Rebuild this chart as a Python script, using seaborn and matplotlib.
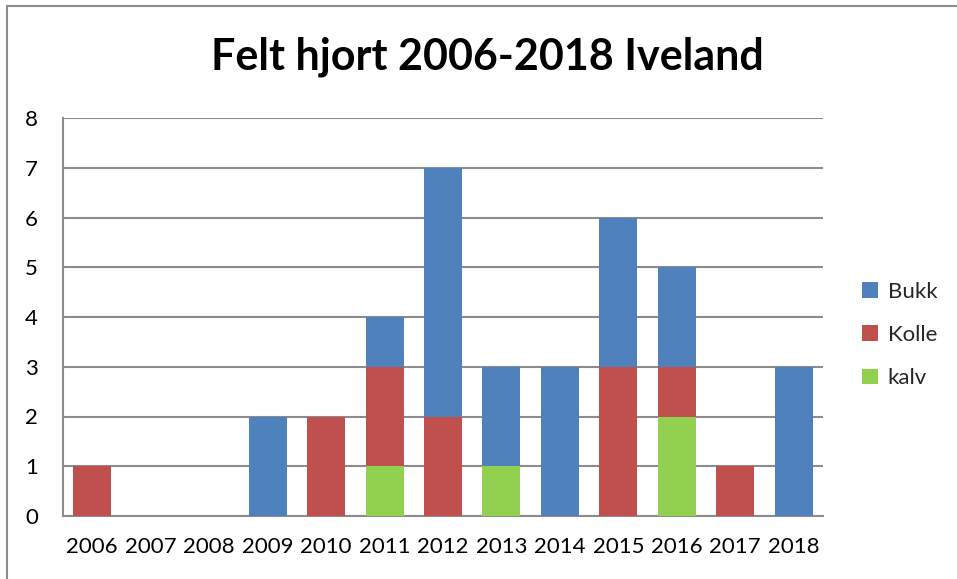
import matplotlib
matplotlib.use("Agg")
import matplotlib.pyplot as plt
import seaborn as sns
import pandas as pd
from matplotlib.patches import Patch, Rectangle

years = ["2006", "2007", "2008", "2009", "2010", "2011", "2012",
         "2013", "2014", "2015", "2016", "2017", "2018"]
bukk = [0, 0, 0, 2, 0, 1, 5, 2, 3, 3, 2, 0, 3]
kolle = [1, 0, 0, 0, 2, 2, 2, 0, 0, 3, 1, 1, 0]
kalv = [0, 0, 0, 0, 0, 1, 0, 1, 0, 0, 2, 0, 0]
series_names = ["Bukk", "Kolle", "kalv"]
colors = {"Bukk": "#4F81BD", "Kolle": "#C0504D", "kalv": "#92D050"}

df = pd.DataFrame({"year": years, "Bukk": bukk, "Kolle": kolle, "kalv": kalv})
df["top_kalv"] = df["kalv"]
df["top_kolle"] = df["kalv"] + df["Kolle"]
df["top_bukk"] = df["top_kolle"] + df["Bukk"]

sns.set_style("white")
plt.rcParams["font.family"] = ["Lato", "DejaVu Sans"]

fig = plt.figure(figsize=(9.57, 5.79), dpi=100)
ax = fig.add_axes([63/957, 1-516/579, (823-63)/957, (516-118)/579])

w = 0.65
sns.barplot(data=df, x="year", y="top_bukk", color=colors["Bukk"], width=w,
            saturation=1, ax=ax, linewidth=0, zorder=3)
sns.barplot(data=df, x="year", y="top_kolle", color=colors["Kolle"], width=w,
            saturation=1, ax=ax, linewidth=0, zorder=3)
sns.barplot(data=df, x="year", y="top_kalv", color=colors["kalv"], width=w,
            saturation=1, ax=ax, linewidth=0, zorder=3)

ax.set_ylim(0, 8)
ax.set_xlim(-0.5, len(years) - 0.5)
ax.set_yticks(range(0, 9))
ax.set_xlabel("")
ax.set_ylabel("")
ax.yaxis.grid(True, color="#8C8C8C", linewidth=1.5, zorder=0)
ax.set_axisbelow(True)
for s in ["top", "right"]:
    ax.spines[s].set_visible(False)
for s in ["left", "bottom"]:
    ax.spines[s].set_color("#8C8C8C")
    ax.spines[s].set_linewidth(1.5)
ax.tick_params(axis="both", length=0, labelsize=16, colors="black")
ax.tick_params(axis="y", pad=18)
ax.tick_params(axis="x", pad=15)

fig.text(487/957, 1-57/579, "Felt hjort 2006-2018 Iveland", ha="center", va="center",
         fontsize=31, fontweight="bold", color="black")

handles = [Patch(facecolor=colors[n], edgecolor="none") for n in series_names]
fig.legend(handles, series_names, loc="center left",
           bbox_to_anchor=(862/957, 1-335/579), frameon=False, fontsize=16,
           handlelength=0.7, handleheight=0.7, handletextpad=0.45,
           labelspacing=1.05, borderpad=0, borderaxespad=0)

fig.patches.append(Rectangle((7/957, -0.1), 1.2, 1.1 - 6/579 + 0.0,
                             transform=fig.transFigure, fill=False,
                             edgecolor="#8C8C8C", linewidth=1.5))

fig.savefig("out.png", dpi=100)
